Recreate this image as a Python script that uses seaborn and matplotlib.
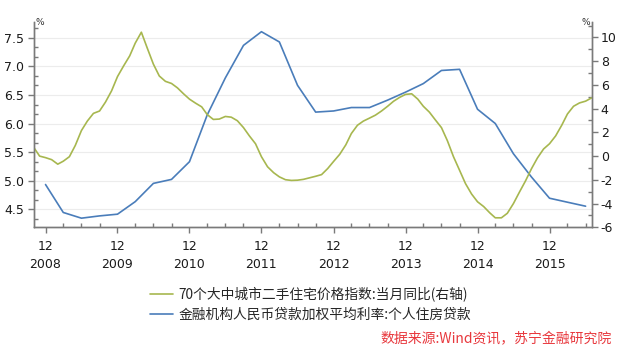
import pandas as pd
import matplotlib
matplotlib.use("Agg")
import matplotlib.pyplot as plt
import matplotlib.dates as mdates
from matplotlib.ticker import MultipleLocator
import seaborn as sns

# series names (legend)
price_label = "70个大中城市二手住宅价格指数:当月同比(右轴)"
rate_label = "金融机构人民币贷款加权平均利率:个人住房贷款"
source_text = "数据来源:Wind资讯，苏宁金融研究院"

# 70-city second-hand housing price index, YoY %, monthly (right axis)
price_months = pd.date_range("2008-10-01", "2016-07-01", freq="MS")
price_yoy = [
    0.76, 0.0, -0.13,
    -0.3, -0.68, -0.43, -0.05, 0.90, 2.15, 2.95, 3.6, 3.8, 4.55, 5.5, 6.7,
    7.6, 8.45, 9.52, 10.44, 9.1, 7.75, 6.75, 6.3, 6.12, 5.75, 5.25, 4.8,
    4.46, 4.15, 3.5, 3.09, 3.12, 3.34, 3.28, 2.98, 2.4, 1.7, 1.04, -0.05,
    -0.9, -1.4, -1.75, -1.99, -2.05, -2.03, -1.96, -1.83, -1.7, -1.56, -1.05, -0.45,
    0.15, 0.95, 1.9, 2.6, 2.95, 3.2, 3.45, 3.8, 4.2, 4.62, 4.95, 5.2,
    5.25, 4.8, 4.2, 3.7, 3.05, 2.4, 1.3, -0.05, -1.2, -2.32, -3.2, -3.85,
    -4.25, -4.78, -5.2, -5.2, -4.82, -4.0, -3.05, -2.1, -1.05, -0.15, 0.6, 1.04,
    1.7, 2.6, 3.55, 4.2, 4.48, 4.63, 4.9,
]

# weighted avg lending rate, personal housing loans, %, quarterly (left axis)
rate_quarters = pd.date_range("2008-12-01", "2016-06-01", freq="3MS")
loan_rate = [
    4.93,
    4.44, 4.34, 4.38, 4.41,
    4.63, 4.95, 5.02, 5.33,
    6.15, 6.80, 7.37, 7.61,
    7.43, 6.67, 6.20, 6.22,
    6.28, 6.28, 6.41, 6.55,
    6.70, 6.93, 6.95, 6.25,
    6.00, 5.47, 5.06, 4.69,
    4.62, 4.55,
]

price_df = pd.DataFrame({"date": price_months, "yoy": price_yoy})
rate_df = pd.DataFrame({"date": rate_quarters, "rate": loan_rate})

sns.set_style("white")
plt.rcParams["font.family"] = ["DejaVu Sans", "Noto Sans CJK SC"]

green = "#a7b74f"
blue = "#4a7dba"
axis_grey = "#7a7a7a"

fig = plt.figure(figsize=(6.29, 3.51), dpi=100)
ax = fig.add_axes([33.5 / 629, 1 - 227.3 / 351, (591.7 - 33.5) / 629, (227.3 - 22) / 351])
ax2 = ax.twinx()

ax.yaxis.grid(True, color="#ececec", linewidth=0.8)
ax.set_axisbelow(True)

sns.lineplot(data=rate_df, x="date", y="rate", ax=ax, color=blue, linewidth=1.2)
sns.lineplot(data=price_df, x="date", y="yoy", ax=ax2, color=green, linewidth=1.2)

ax.set_xlim(pd.Timestamp("2008-10-01"), pd.Timestamp("2016-07-02"))
ax.set_ylim(4.18, 7.78)
ax2.set_ylim(-6, 11.3)

ax.yaxis.set_major_locator(MultipleLocator(0.5))
ax.yaxis.set_minor_locator(MultipleLocator(1 / 6))
ax2.yaxis.set_major_locator(MultipleLocator(2))
ax2.yaxis.set_minor_locator(MultipleLocator(1))
ax.yaxis.set_major_formatter(matplotlib.ticker.FormatStrFormatter("%.1f"))
ax2.yaxis.set_major_formatter(matplotlib.ticker.FormatStrFormatter("%d"))

ax.xaxis.set_major_locator(mdates.MonthLocator(bymonth=12))
ax.xaxis.set_minor_locator(mdates.MonthLocator(bymonth=[3, 6, 9]))
ax.xaxis.set_major_formatter(mdates.DateFormatter("%m\n%Y"))

for a in (ax, ax2):
    a.set_xlabel("")
    a.set_ylabel("")
    a.spines["top"].set_visible(False)
    for s in ("left", "right", "bottom"):
        a.spines[s].set_color(axis_grey)
        a.spines[s].set_linewidth(1.0)
    a.tick_params(which="major", direction="out", length=4, width=1, color=axis_grey,
                  labelsize=9, labelcolor="#1a1a1a")
    a.tick_params(which="minor", direction="in", length=3, width=1, color=axis_grey)

ax.tick_params(axis="y", which="both", left=True, right=False, pad=2.5)
ax2.tick_params(axis="y", which="both", left=False, right=True, pad=2.5)
ax.tick_params(axis="x", which="both", bottom=True, pad=5)
for lab in ax.get_xticklabels():
    lab.set_linespacing(1.5)

fig.text(35.5 / 629, 1 - 22.5 / 351, "%", fontsize=6.5, ha="left", va="center", color="#333333")
fig.text(590.5 / 629, 1 - 22.5 / 351, "%", fontsize=6.5, ha="right", va="center", color="#333333")

handles = [plt.Line2D([], [], color=green, linewidth=1.2),
           plt.Line2D([], [], color=blue, linewidth=1.2)]
fig.legend(handles, [price_label, rate_label], loc="center left",
           bbox_to_anchor=(150 / 629, 1 - 304 / 351), frameon=False,
           borderpad=0, borderaxespad=0, handlelength=1.65, handletextpad=0.4,
           labelspacing=0.45,
           prop={"family": ["Noto Sans CJK SC", "DejaVu Sans"], "size": 9.9})

fig.text(612 / 629, 1 - 339 / 351, source_text, color="#e8383d", fontsize=10,
         ha="right", va="center", style="italic",
         family=["Noto Sans CJK SC", "DejaVu Sans"])

fig.savefig("out.png", dpi=100)
